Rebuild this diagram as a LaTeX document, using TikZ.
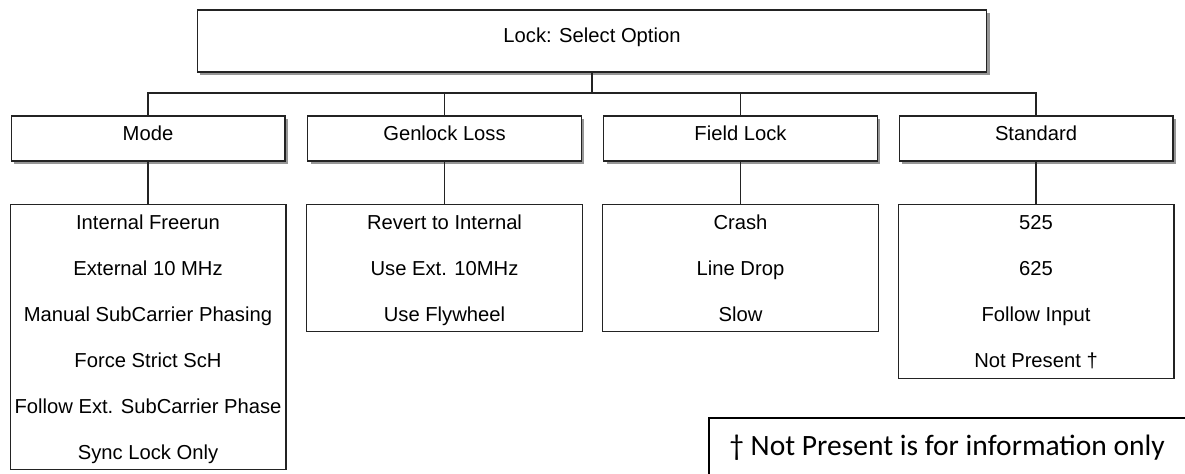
\documentclass[tikz,border=0pt]{standalone}
\usepackage{fontspec}
\setmainfont{Liberation Sans}
\newfontfamily\notefont{Carlito}
\usepackage{tikz}
\usetikzlibrary{shadows}
\definecolor{lkline}{RGB}{35,35,35}
\definecolor{lkshade}{RGB}{150,150,150}
\tikzset{
  head/.style={draw=lkline,fill=white,line width=0.6pt,minimum width=5.48cm,minimum height=0.9cm,inner sep=0pt,
    text height=0.3cm,text depth=0.24cm,
    drop shadow={shadow xshift=0.06cm,shadow yshift=-0.06cm,fill=lkshade,opacity=1}},
  optbox/.style={draw=lkline,line width=0.6pt,minimum width=5.52cm,anchor=north,inner sep=0pt},
  item/.style={anchor=base,inner sep=0pt},
  wire/.style={draw=lkline,line width=0.6pt},
}

\begin{document}
\begin{tikzpicture}[x=0.02cm,y=-0.02cm,every node/.style={font=\fontsize{11.5}{13}\selectfont}]
  \useasboundingbox (0,0) rectangle (1185,473);
  % top of the menu
  \node[head,minimum width=15.8cm,minimum height=1.24cm] (top) at (592,41) {Lock: Select Option};
  \node[head] (mode) at (148,138.5) {Mode};
  \node[head] (gen) at (444.5,138.5) {Genlock Loss};
  \node[head] (field) at (740.5,138.5) {Field Lock};
  \node[head] (std) at (1036,138.5) {Standard};
  % option lists
  \node[optbox,minimum height=5.3cm] (modelist) at (148,204) {};
  \node[optbox,minimum height=2.54cm] (genlist) at (444.5,204) {};
  \node[optbox,minimum height=2.54cm] (fieldlist) at (740.5,204) {};
  \node[optbox,minimum height=3.48cm] (stdlist) at (1036,204) {};
  \foreach \txt [count=\i] in {Internal Freerun,External 10 MHz,Manual SubCarrier Phasing,Force Strict ScH,Follow Ext. SubCarrier Phase,Sync Lock Only}
    \node[item] (mode-\i) at (148,183+46*\i) {\txt};
  \foreach \txt [count=\i] in {Revert to Internal,Use Ext. 10MHz,Use Flywheel}
    \node[item] (gen-\i) at (444.5,183+46*\i) {\txt};
  \foreach \txt [count=\i] in {Crash,Line Drop,Slow}
    \node[item] (field-\i) at (740.5,183+46*\i) {\txt};
  \foreach \txt [count=\i] in {525,625,Follow Input,Not Present †}
    \node[item] (std-\i) at (1036,183+46*\i) {\txt};
  % tree lines
  \coordinate (bus) at (592,93);
  \draw[wire] (top.south) -- (bus);
  \draw[wire] (mode.north) -- (mode.north |- bus) -- (std.north |- bus) -- (std.north);
  \draw[wire] (gen.north) -- (gen.north |- bus);
  \draw[wire] (field.north) -- (field.north |- bus);
  \foreach \h/\l in {mode/modelist,gen/genlist,field/fieldlist,std/stdlist}
    \draw[wire] (\h.south) -- (\l.north);
  % footnote
  \node[anchor=base west,inner sep=0pt,font=\notefont\fontsize{16.8}{19}\selectfont] (note) at (729,455) {† Not Present is for information only};
  \draw[line width=1.1pt] (709,475) |- (1187,418);
\end{tikzpicture}
\end{document}
